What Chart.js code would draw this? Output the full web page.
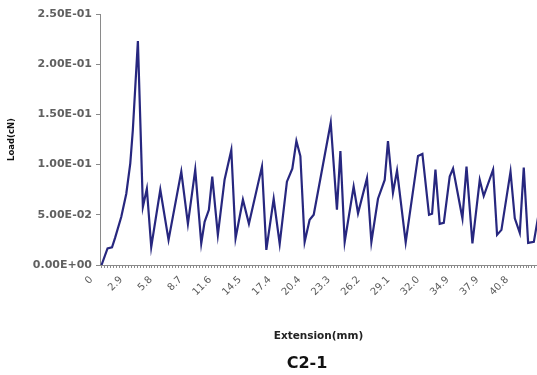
<!DOCTYPE html>
<html>
<head>
<meta charset="utf-8">
<script src="https://cdn.jsdelivr.net/npm/chart.js@4/dist/chart.umd.min.js"></script>
<style>
  html, body { margin: 0; padding: 0; background: #ffffff; }
  #wrap { position: relative; width: 537px; height: 375px; overflow: hidden; }
  #chart { position: absolute; left: 0; top: 0; }
  #caption {
    position: absolute; left: 257px; top: 353px; width: 100px; height: 20px;
    line-height: 20px; text-align: center;
    font-family: "DejaVu Sans", sans-serif; font-weight: bold; font-size: 16px; color: #111;
  }
</style>
</head>
<body>
<div id="wrap">
  <canvas id="chart" width="537" height="375"></canvas>
  <div id="caption">C2-1</div>
</div>
<script>
// Load–extension trace for specimen C2-1
const extensionMm = [
  0.00, 0.59, 1.03, 1.33, 1.94, 2.43, 2.82, 3.07, 3.57, 4.06,
  4.45, 4.88, 5.77, 6.58, 7.83, 8.48, 9.20, 9.79, 10.12, 10.54,
  10.87, 11.42, 12.08, 12.74, 13.16, 13.88, 14.47, 15.75, 16.18, 16.90,
  17.49, 18.20, 18.73, 19.13, 19.52, 19.94, 20.43, 20.83, 22.50, 23.11,
  23.45, 23.87, 24.75, 25.18, 26.06, 26.49, 27.14, 27.80, 28.12, 28.61,
  29.01, 29.86, 31.07, 31.50, 32.15, 32.45, 32.78, 33.20, 33.60, 34.18,
  34.51, 35.43, 35.83, 36.41, 37.13, 37.52, 38.44, 38.83, 39.26, 40.15,
  40.57, 41.06, 41.45, 41.88, 42.44, 42.93
];
const loadCn = [
  0.000, 0.0166, 0.0176, 0.027, 0.048, 0.071, 0.101, 0.134, 0.223, 0.058,
  0.076, 0.018, 0.075, 0.025, 0.093, 0.041, 0.095, 0.0216, 0.043, 0.055,
  0.088, 0.030, 0.085, 0.1145, 0.0266, 0.065, 0.041, 0.098, 0.015, 0.066,
  0.021, 0.083, 0.096, 0.1235, 0.1085, 0.023, 0.045, 0.050, 0.1417, 0.055,
  0.1135, 0.023, 0.078, 0.0515, 0.0864, 0.023, 0.066, 0.0847, 0.1235, 0.072,
  0.094, 0.0226, 0.1086, 0.1106, 0.050, 0.051, 0.095, 0.041, 0.042, 0.088,
  0.096, 0.0465, 0.098, 0.0216, 0.0847, 0.0687, 0.095, 0.030, 0.035, 0.093,
  0.0465, 0.032, 0.097, 0.022, 0.023, 0.052
];
const xTickLabels = ['0', '2.9', '5.8', '8.7', '11.6', '14.5', '17.4', '20.4',
                     '23.3', '26.2', '29.1', '32.0', '34.9', '37.9', '40.8'];
const yTickLabels = ['0.00E+00', '5.00E-02', '1.00E-01', '1.50E-01', '2.00E-01', '2.50E-01'];

// axis layout
const X_MIN = -0.15, X_MAX = 42.75;
const LABEL_STEP = 2.914;          // mm between labelled ticks
const MINOR_PER_LABEL = 10;        // small tick marks per labelled interval
const AXIS_GREY = '#8a8a8a';

Chart.defaults.font.family = '"DejaVu Sans", sans-serif';

const points = extensionMm.map((x, i) => ({ x: x, y: loadCn[i] }));

new Chart(document.getElementById('chart'), {
  type: 'line',
  data: {
    datasets: [{
      data: points,
      borderColor: '#27277f',
      borderWidth: 2.2,
      pointRadius: 0,
      tension: 0,
      fill: false
    }]
  },
  options: {
    responsive: false,
    animation: false,
    devicePixelRatio: 1,
    layout: { padding: { top: 14, right: 0, bottom: 0, left: 0 } },
    plugins: { legend: { display: false }, tooltip: { enabled: false } },
    scales: {
      x: {
        type: 'linear',
        min: X_MIN,
        max: X_MAX,
        afterBuildTicks(scale) {
          const step = LABEL_STEP / MINOR_PER_LABEL;
          const ticks = [];
          for (let k = 0; k * step <= X_MAX; k++) ticks.push({ value: k * step });
          scale.ticks = ticks;
        },
        afterFit(scale) {
          scale.height = 110;
          scale.paddingLeft = 0;
          scale.paddingRight = 0;
        },
        ticks: {
          autoSkip: false,
          minRotation: 45,
          maxRotation: 45,
          padding: 6,
          labelOffset: -10,
          color: '#5a5a5a',
          font: { size: 10 },
          callback(value, index) {
            if (index % MINOR_PER_LABEL !== 0) return '';
            const label = xTickLabels[index / MINOR_PER_LABEL];
            return label === undefined ? '' : label;
          }
        },
        grid: { display: true, drawOnChartArea: false, drawTicks: true, tickLength: 3, color: AXIS_GREY },
        border: { display: true, color: AXIS_GREY, width: 1 },
        title: {
          display: true,
          text: 'Extension(mm)',
          color: '#222222',
          font: { size: 10.5, weight: 'bold' },
          padding: { top: 0, bottom: 32 }
        }
      },
      y: {
        type: 'linear',
        min: 0,
        max: 0.25,
        afterBuildTicks(scale) {
          scale.ticks = yTickLabels.map((_, i) => ({ value: i * 0.05 }));
        },
        afterFit(scale) {
          scale.width = 100;
          scale.paddingTop = 0;
          scale.paddingBottom = 0;
        },
        ticks: {
          padding: 4,
          color: '#606060',
          font: { size: 11, weight: 'bold' },
          callback(value, index) { return yTickLabels[index]; }
        },
        grid: { display: true, drawOnChartArea: false, drawTicks: true, tickLength: 4, color: AXIS_GREY },
        border: { display: true, color: AXIS_GREY, width: 1 },
        title: {
          display: true,
          text: 'Load(cN)',
          color: '#111111',
          font: { size: 8.5, weight: 'bold' },
          padding: { top: 7, bottom: 0 }
        }
      }
    }
  }
});
</script>
</body>
</html>
